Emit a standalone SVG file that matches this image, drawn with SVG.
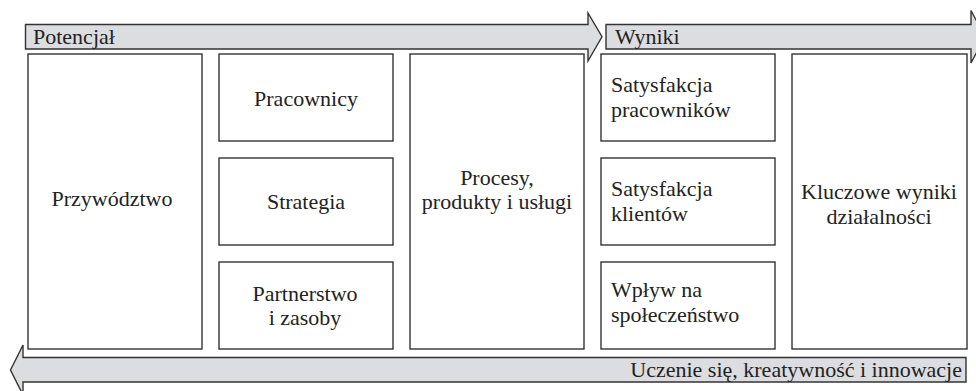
<svg xmlns="http://www.w3.org/2000/svg" width="976" height="391" viewBox="0 0 976 391" font-family="'Liberation Serif', 'Times New Roman', Times, serif" font-size="22" fill="#222222">
  <defs>
    <style>
      .box { fill: #ffffff; stroke: #333333; stroke-width: 1.4; }
      .band { fill: #dcdde0; stroke: #333333; stroke-width: 1.4; stroke-linejoin: miter; }
    </style>
  </defs>
  <rect width="976" height="391" fill="#ffffff"/>

  <!-- direction bands -->
  <g id="connectors">
    <g id="band-potencjal">
      <path class="band" d="M25.5,24.5 H588 V13 L602,36.75 L588,61 V49 H25.5 Z"/>
      <text x="33" y="44">Potencjał</text>
    </g>
    <g id="band-wyniki">
      <path class="band" d="M606,24.5 H971 V10.5 L985,36.75 L971,63 V49 H606 Z"/>
      <text x="615" y="44">Wyniki</text>
    </g>
    <g id="band-uczenie">
      <path class="band" d="M966,357.5 H23 V345 L10.5,370 L23,395 V382 H966 Z"/>
      <text x="962" y="377" text-anchor="end">Uczenie się, kreatywność i innowacje</text>
    </g>
  </g>

  <g id="przywodztwo">
    <rect class="box" x="28" y="54" width="174" height="295"/>
    <text x="112" y="206" text-anchor="middle">Przywództwo</text>
  </g>
  <g id="pracownicy">
    <rect class="box" x="219" y="54" width="174" height="87"/>
    <text x="306" y="106" text-anchor="middle">Pracownicy</text>
  </g>
  <g id="strategia">
    <rect class="box" x="219" y="158" width="174" height="87"/>
    <text x="306" y="209" text-anchor="middle">Strategia</text>
  </g>
  <g id="partnerstwo">
    <rect class="box" x="219" y="262" width="174" height="87"/>
    <text x="305" y="301" text-anchor="middle">Partnerstwo</text>
    <text x="305" y="325" text-anchor="middle">i zasoby</text>
  </g>
  <g id="procesy">
    <rect class="box" x="410" y="54" width="174" height="295"/>
    <text x="497" y="185" text-anchor="middle">Procesy,</text>
    <text x="497" y="209" text-anchor="middle">produkty i usługi</text>
  </g>
  <g id="satysfakcja-pracownikow">
    <rect class="box" x="601" y="54" width="174" height="87"/>
    <text x="611" y="92">Satysfakcja</text>
    <text x="611" y="117">pracowników</text>
  </g>
  <g id="satysfakcja-klientow">
    <rect class="box" x="601" y="158" width="174" height="87"/>
    <text x="611" y="196">Satysfakcja</text>
    <text x="611" y="221">klientów</text>
  </g>
  <g id="wplyw">
    <rect class="box" x="601" y="262" width="174" height="87"/>
    <text x="611" y="297">Wpływ na</text>
    <text x="611" y="322">społeczeństwo</text>
  </g>
  <g id="kluczowe-wyniki">
    <rect class="box" x="792" y="54" width="175" height="295"/>
    <text x="879" y="199" text-anchor="middle">Kluczowe wyniki</text>
    <text x="879" y="224" text-anchor="middle">działalności</text>
  </g>
</svg>
